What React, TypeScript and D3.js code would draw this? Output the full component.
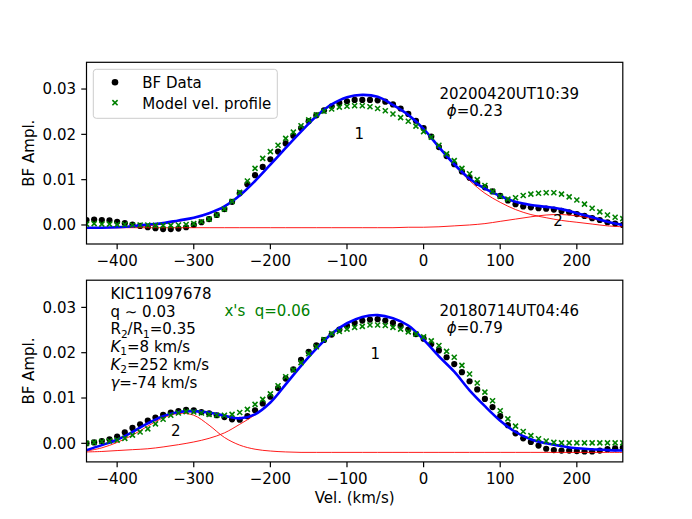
import { useEffect, useRef } from 'react';
import * as d3 from 'd3';

const WIDTH = 692;
const HEIGHT = 519;
const FONT = '"DejaVu Sans", sans-serif';
const FS = 15;

// velocity grids (km/s): BF samples every 10 km/s, fitted curves every 20 km/s
const dataVel = d3.range(-440, 261, 10);
const fitVel = d3.range(-440, 261, 20);

const xTicks = [-400, -300, -200, -100, 0, 100, 200];
const yTicks = [0, 0.01, 0.02, 0.03];

// ---- top panel: 20200420UT10:39, phi=0.23 ----
const topBF = [
  0.0011, 0.0012, 0.0011, 0.0010, 0.0007, 0.0004, 0.0001, -0.0002, -0.0005, -0.0007,
  -0.0009, -0.0009, -0.0008, -0.0005, 0.0000, 0.0006, 0.0013, 0.0022, 0.0035, 0.0051,
  0.0070, 0.0090, 0.0110, 0.0128, 0.0145, 0.0162, 0.0180, 0.0197, 0.0214, 0.0229,
  0.0242, 0.0253, 0.0262, 0.0269, 0.0273, 0.0276, 0.0276, 0.0276, 0.0275, 0.0272,
  0.0266, 0.0257, 0.0245, 0.0230, 0.0214, 0.0195, 0.0172, 0.0152, 0.0134, 0.0118,
  0.0104, 0.0093, 0.0083, 0.0074, 0.0064, 0.0054, 0.0046, 0.0041, 0.0039, 0.0037,
  0.0036, 0.0034, 0.0031, 0.0028, 0.0024, 0.0020, 0.0015, 0.0011, 0.0006, 0.0003,
  0.0000,
];
const topModel = [
  0.0002, 0.0003, 0.0002, 0.0002, 0.0001, 0.0001, 0.0000, 0.0000, 0.0000, -0.0001,
  -0.0001, -0.0001, 0.0000, 0.0001, 0.0003, 0.0007, 0.0013, 0.0022, 0.0035, 0.0052,
  0.0072, 0.0097, 0.0125, 0.0147, 0.0162, 0.0176, 0.0191, 0.0205, 0.0219, 0.0232,
  0.0243, 0.0251, 0.0256, 0.0260, 0.0262, 0.0263, 0.0263, 0.0261, 0.0257, 0.0252,
  0.0245, 0.0237, 0.0229, 0.0218, 0.0206, 0.0194, 0.0176, 0.0157, 0.0142, 0.0125,
  0.0113, 0.0100, 0.0087, 0.0074, 0.0063, 0.0057, 0.0060, 0.0065, 0.0068, 0.0070,
  0.0071, 0.0071, 0.0068, 0.0062, 0.0055, 0.0046, 0.0037, 0.0029, 0.0022, 0.0017,
  0.0014,
];
const topFit = [
  -0.0006, -0.0006, -0.0005, -0.0003, 0.0001, 0.0004, 0.0010, 0.0016, 0.0026, 0.0041,
  0.0065, 0.0097, 0.0133, 0.0170, 0.0206, 0.0240, 0.0266, 0.0282, 0.0287, 0.0283,
  0.0265, 0.0243, 0.0212, 0.0172, 0.0134, 0.0102, 0.0080, 0.0064, 0.0051, 0.0044,
  0.0040, 0.0035, 0.0026, 0.0017, 0.0007, 0.0000,
];
const topComp1 = [
  -0.0006, -0.0006, -0.0006, -0.0005, -0.0002, 0.0002, 0.0008, 0.0015, 0.0025, 0.0040,
  0.0064, 0.0096, 0.0132, 0.0169, 0.0205, 0.0239, 0.0265, 0.0281, 0.0286, 0.0282,
  0.0264, 0.0242, 0.0211, 0.0171, 0.0132, 0.0098, 0.0070, 0.0050, 0.0034, 0.0023,
  0.0016, 0.0010, 0.0006, 0.0002, -0.0002, -0.0004,
];
const topComp2 = [
  -0.0006, -0.0006, -0.0006, -0.0006, -0.0006, -0.0006, -0.0006, -0.0006, -0.0006, -0.0006,
  -0.0006, -0.0006, -0.0006, -0.0006, -0.0006, -0.0006, -0.0006, -0.0006, -0.0006, -0.0006,
  -0.0006, -0.0005, -0.0005, -0.0004, -0.0002, 0.0000, 0.0003, 0.0008, 0.0013, 0.0018,
  0.0022, 0.0023, 0.0020, 0.0014, 0.0007, 0.0000,
];

// ---- bottom panel: 20180714UT04:46, phi=0.79 ----
const botBF = [
  0.0000, 0.0002, 0.0005, 0.0009, 0.0015, 0.0024, 0.0034, 0.0042, 0.0050, 0.0057,
  0.0063, 0.0068, 0.0071, 0.0074, 0.0073, 0.0069, 0.0066, 0.0062, 0.0058, 0.0053,
  0.0052, 0.0060, 0.0073, 0.0088, 0.0103, 0.0122, 0.0143, 0.0163, 0.0184, 0.0202,
  0.0216, 0.0228, 0.0240, 0.0251, 0.0259, 0.0266, 0.0271, 0.0273, 0.0274, 0.0271,
  0.0266, 0.0259, 0.0251, 0.0241, 0.0231, 0.0219, 0.0205, 0.0190, 0.0175, 0.0157,
  0.0137, 0.0119, 0.0098, 0.0080, 0.0060, 0.0040, 0.0022, 0.0011, 0.0003, -0.0005,
  -0.0012, -0.0015, -0.0016, -0.0016, -0.0017, -0.0018, -0.0018, -0.0016, -0.0013, -0.0011,
  -0.0010,
];
const botModel = [
  0.0000, 0.0002, 0.0004, 0.0005, 0.0007, 0.0011, 0.0018, 0.0025, 0.0032, 0.0043,
  0.0053, 0.0062, 0.0067, 0.0070, 0.0069, 0.0067, 0.0064, 0.0062, 0.0062, 0.0064,
  0.0068, 0.0075, 0.0086, 0.0097, 0.0109, 0.0127, 0.0147, 0.0162, 0.0178, 0.0198,
  0.0213, 0.0229, 0.0242, 0.0247, 0.0252, 0.0256, 0.0258, 0.0261, 0.0261, 0.0260,
  0.0256, 0.0252, 0.0246, 0.0241, 0.0235, 0.0226, 0.0216, 0.0203, 0.0190, 0.0172,
  0.0153, 0.0133, 0.0113, 0.0094, 0.0072, 0.0054, 0.0038, 0.0026, 0.0017, 0.0010,
  0.0005, 0.0002, 0.0001, 0.0001, 0.0001, 0.0001, 0.0001, 0.0001, 0.0001, 0.0001,
  0.0001,
];
const botFit = [
  -0.0015, -0.0004, 0.0008, 0.0025, 0.0044, 0.0060, 0.0069, 0.0071, 0.0068, 0.0061,
  0.0055, 0.0064, 0.0090, 0.0130, 0.0171, 0.0209, 0.0242, 0.0265, 0.0279, 0.0283,
  0.0276, 0.0260, 0.0229, 0.0192, 0.0158, 0.0117, 0.0082, 0.0050, 0.0025, 0.0009,
  0.0000, -0.0006, -0.0011, -0.0013, -0.0015, -0.0016,
];
const botComp1 = [
  -0.0019, -0.0018, -0.0016, -0.0014, -0.0012, -0.0008, -0.0003, 0.0003, 0.0011, 0.0023,
  0.0042, 0.0063, 0.0090, 0.0130, 0.0171, 0.0209, 0.0242, 0.0265, 0.0279, 0.0283,
  0.0276, 0.0260, 0.0229, 0.0192, 0.0158, 0.0117, 0.0082, 0.0050, 0.0025, 0.0009,
  0.0000, -0.0006, -0.0011, -0.0013, -0.0015, -0.0016,
];
const botComp2 = [
  -0.0017, -0.0010, 0.0002, 0.0018, 0.0038, 0.0056, 0.0066, 0.0062, 0.0040, 0.0013,
  -0.0004, -0.0013, -0.0017, -0.0019, -0.0020, -0.0020, -0.0020, -0.0020, -0.0020, -0.0020,
  -0.0020, -0.0020, -0.0020, -0.0020, -0.0020, -0.0020, -0.0020, -0.0020, -0.0020, -0.0020,
  -0.0020, -0.0020, -0.0020, -0.0020, -0.0020, -0.0020,
];

const legendLabels = ['BF Data', 'Model vel. profile'];

interface Seg { t: string; italic?: boolean; sub?: boolean }
interface Note { v: number; a: number; segs: Seg[]; color?: string; anchor?: string }
interface Panel {
  bf: number[]; model: number[]; fit: number[]; comp1: number[]; comp2: number[];
  yDomain: [number, number]; top: number; notes: Note[];
}

const AX_LEFT = 86.5;
const AX_RIGHT = 622.8;
const AX_H = 181.7;
const LINE = 17.8 / 4533; // one text line in data units

const panels: Panel[] = [
  {
    bf: topBF, model: topModel, fit: topFit, comp1: topComp1, comp2: topComp2,
    yDomain: [-0.0042, 0.0359], top: 62.3,
    notes: [
      { v: 20.6, a: 0.0277, segs: [{ t: '20200420UT10:39' }] },
      { v: 30.3, a: 0.0240, segs: [{ t: 'ϕ', italic: true }, { t: '=0.23' }] },
      { v: -84, a: 0.0189, segs: [{ t: '1' }], anchor: 'middle' },
      { v: 175.4, a: -0.0003, segs: [{ t: '2' }], anchor: 'middle' },
    ],
  },
  {
    bf: botBF, model: botModel, fit: botFit, comp1: botComp1, comp2: botComp2,
    yDomain: [-0.0041, 0.0360], top: 280.2,
    notes: [
      { v: -408.7, a: 0.0319, segs: [{ t: 'KIC11097678' }] },
      { v: -408.7, a: 0.0319 - LINE, segs: [{ t: 'q ∼ 0.03' }] },
      { v: -408.7, a: 0.0319 - 2 * LINE, segs: [{ t: 'R' }, { t: '2', sub: true }, { t: '/R' }, { t: '1', sub: true }, { t: '=0.35' }] },
      { v: -408.7, a: 0.0319 - 3 * LINE, segs: [{ t: 'K', italic: true }, { t: '1', sub: true }, { t: '=8 km/s' }] },
      { v: -408.7, a: 0.0319 - 4 * LINE, segs: [{ t: 'K', italic: true }, { t: '2', sub: true }, { t: '=252 km/s' }] },
      { v: -408.7, a: 0.0319 - 5 * LINE, segs: [{ t: 'γ', italic: true }, { t: '=-74 km/s' }] },
      { v: -260, a: 0.0281, segs: [{ t: "x's  q=0.06" }], color: '#008000' },
      { v: 20.6, a: 0.0281, segs: [{ t: '20180714UT04:46' }] },
      { v: 30.3, a: 0.0243, segs: [{ t: 'ϕ', italic: true }, { t: '=0.79' }] },
      { v: -63, a: 0.0186, segs: [{ t: '1' }], anchor: 'middle' },
      { v: -323.6, a: 0.0017, segs: [{ t: '2' }], anchor: 'middle' },
    ],
  },
];

type Sel = d3.Selection<any, unknown, null, undefined>;

function addText(g: Sel, px: number, py: number, segs: Seg[], color = '#000', anchor = 'start') {
  const t = g.append('text')
    .attr('x', px).attr('y', py)
    .attr('font-family', FONT).attr('font-size', FS)
    .attr('fill', color).attr('text-anchor', anchor)
    .style('white-space', 'pre');
  let shifted = false;
  segs.forEach(s => {
    const ts = t.append('tspan').text(s.t);
    if (s.italic) ts.attr('font-style', 'italic');
    if (s.sub) {
      ts.attr('font-size', FS * 0.7);
      if (!shifted) ts.attr('dy', 3.3);
      shifted = true;
    } else if (shifted) {
      ts.attr('dy', -3.3);
      shifted = false;
    }
  });
}

function crossPath(s: number) {
  return `M${-s},${-s}L${s},${s}M${-s},${s}L${s},${-s}`;
}

function drawPanel(svg: Sel, p: Panel, idx: number, isLast: boolean) {
  const x = d3.scaleLinear().domain([-440, 260]).range([AX_LEFT, AX_RIGHT]);
  const y = d3.scaleLinear().domain(p.yDomain).range([p.top + AX_H, p.top]);
  const bottom = p.top + AX_H;

  const clipId = `clip-${idx}`;
  svg.append('clipPath').attr('id', clipId)
    .append('rect').attr('x', AX_LEFT).attr('y', p.top)
    .attr('width', AX_RIGHT - AX_LEFT).attr('height', AX_H);

  const plot = svg.append('g').attr('clip-path', `url(#${clipId})`);

  // BF data
  plot.append('g').selectAll('circle')
    .data(p.bf)
    .join('circle')
    .attr('cx', (_, i) => x(dataVel[i]))
    .attr('cy', d => y(d))
    .attr('r', 3.1)
    .attr('fill', '#000');

  const line = d3.line<number>()
    .x((_, i) => x(fitVel[i]))
    .y(d => y(d))
    .curve(d3.curveCatmullRom.alpha(0.5));

  // gaussian components
  [p.comp1, p.comp2].forEach(c => {
    plot.append('path').attr('d', line(c))
      .attr('fill', 'none').attr('stroke', '#ff0000').attr('stroke-width', 0.9);
  });

  // total fit
  plot.append('path').attr('d', line(p.fit))
    .attr('fill', 'none').attr('stroke', '#0000ff').attr('stroke-width', 2.6);

  // model velocity profile
  plot.append('g').selectAll('path')
    .data(p.model)
    .join('path')
    .attr('transform', (d, i) => `translate(${x(dataVel[i])},${y(d)})`)
    .attr('d', crossPath(2.5))
    .attr('stroke', '#008000').attr('stroke-width', 1.6).attr('fill', 'none');

  // frame
  svg.append('rect')
    .attr('x', AX_LEFT).attr('y', p.top)
    .attr('width', AX_RIGHT - AX_LEFT).attr('height', AX_H)
    .attr('fill', 'none').attr('stroke', '#000').attr('stroke-width', 1.2);

  // x ticks
  const xt = svg.append('g');
  xTicks.forEach(v => {
    xt.append('line').attr('x1', x(v)).attr('x2', x(v))
      .attr('y1', bottom).attr('y2', bottom + 5.25)
      .attr('stroke', '#000').attr('stroke-width', 1.2);
    xt.append('text').attr('x', x(v)).attr('y', bottom + 21.7)
      .attr('text-anchor', 'middle')
      .attr('font-family', FONT).attr('font-size', FS)
      .text(d3.format('d')(v));
  });

  // y ticks
  const yt = svg.append('g');
  yTicks.forEach(a => {
    yt.append('line').attr('x1', AX_LEFT - 5.25).attr('x2', AX_LEFT)
      .attr('y1', y(a)).attr('y2', y(a))
      .attr('stroke', '#000').attr('stroke-width', 1.2);
    yt.append('text').attr('x', AX_LEFT - 10.5).attr('y', y(a) + 5.4)
      .attr('text-anchor', 'end')
      .attr('font-family', FONT).attr('font-size', FS)
      .text(d3.format('.2f')(a));
  });

  svg.append('text')
    .attr('transform', `translate(33.5,${p.top + AX_H / 2}) rotate(-90)`)
    .attr('text-anchor', 'middle')
    .attr('font-family', FONT).attr('font-size', FS)
    .text('BF Ampl.');

  if (isLast) {
    svg.append('text')
      .attr('x', (AX_LEFT + AX_RIGHT) / 2).attr('y', bottom + 41)
      .attr('text-anchor', 'middle')
      .attr('font-family', FONT).attr('font-size', FS)
      .text('Vel. (km/s)');
  }

  p.notes.forEach(n => addText(svg, x(n.v), y(n.a), n.segs, n.color, n.anchor));
}

function drawLegend(svg: Sel) {
  const g = svg.append('g');
  g.append('rect')
    .attr('x', 93.3).attr('y', 69.3).attr('width', 184).attr('height', 49)
    .attr('rx', 3).attr('fill', '#fff').attr('fill-opacity', 0.8)
    .attr('stroke', '#cccccc').attr('stroke-width', 1);
  g.append('circle').attr('cx', 115).attr('cy', 82.3).attr('r', 3.3).attr('fill', '#000');
  g.append('path').attr('transform', 'translate(115,102.7)').attr('d', crossPath(2.6))
    .attr('stroke', '#008000').attr('stroke-width', 1.6);
  legendLabels.forEach((l, i) => {
    g.append('text').attr('x', 142.3).attr('y', 87.7 + i * 20.9)
      .attr('font-family', FONT).attr('font-size', FS)
      .text(l);
  });
}

export default function App() {
  const svgRef = useRef<SVGSVGElement>(null);

  useEffect(() => {
    if (!svgRef.current) return;
    const svg = d3.select(svgRef.current);
    svg.selectAll('*').remove();

    panels.forEach((p, i) => drawPanel(svg as Sel, p, i, i === panels.length - 1));
    drawLegend(svg as Sel);
  }, []);

  return (
    <svg
      ref={svgRef}
      width={WIDTH}
      height={HEIGHT}
      style={{ position: 'absolute', left: 0, top: 0, background: '#fff' }}
    />
  );
}
